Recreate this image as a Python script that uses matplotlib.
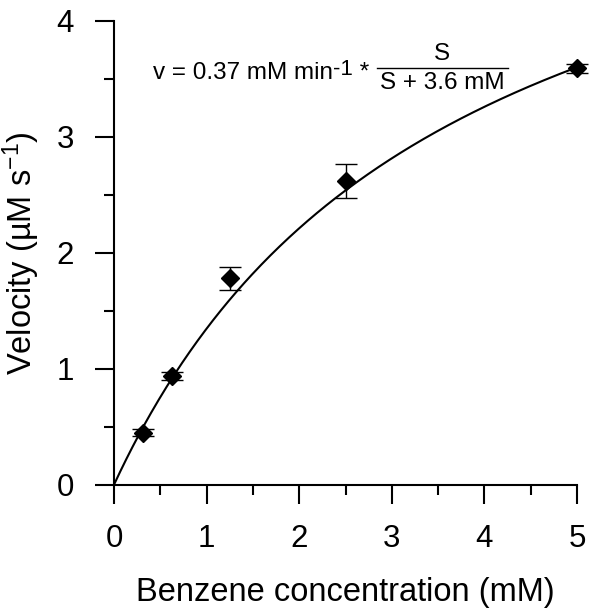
import numpy as np
import matplotlib
matplotlib.use("Agg")
import matplotlib.pyplot as plt
from matplotlib.ticker import MultipleLocator

plt.rcParams["font.family"] = ["Liberation Sans", "DejaVu Sans"]
plt.rcParams["mathtext.fontset"] = "custom"
plt.rcParams["mathtext.rm"] = "Liberation Sans"
plt.rcParams["mathtext.it"] = "Liberation Sans"

# measured data (benzene concentration, mM) vs velocity (uM/s)
conc = [0.3125, 0.625, 1.25, 2.5, 5.0]
velocity = [0.45, 0.935, 1.78, 2.62, 3.59]
vel_err = [0.03, 0.035, 0.10, 0.145, 0.04]

# Michaelis-Menten fit shown in the chart (plot units)
vmax_fit = 6.19
km_fit = 3.6

fig = plt.figure(figsize=(6.0, 6.13), dpi=100)
ax = fig.add_axes([0.19, 0.2093, 0.7717, 0.7569])

s = np.linspace(0, 5, 300)
ax.plot(s, vmax_fit * s / (s + km_fit), color="black", lw=1.5, zorder=2)
eb = ax.errorbar(conc, velocity, yerr=vel_err, fmt="D", color="black", ms=9.5,
                 ecolor="black", elinewidth=1.0, capsize=8, capthick=1.0, zorder=3)
for art in eb.lines[0:1] + tuple(eb.lines[1]) + tuple(eb.lines[2]):
    art.set_clip_on(False)

ax.set_xlim(0, 5)
ax.set_ylim(0, 4)
ax.xaxis.set_major_locator(MultipleLocator(1))
ax.xaxis.set_minor_locator(MultipleLocator(0.5))
ax.yaxis.set_major_locator(MultipleLocator(1))
ax.yaxis.set_minor_locator(MultipleLocator(0.5))
for side in ("top", "right"):
    ax.spines[side].set_visible(False)
for side in ("left", "bottom"):
    ax.spines[side].set_linewidth(1.5)
ax.tick_params(which="major", direction="out", length=14, width=1.5, labelsize=22.5)
ax.tick_params(axis="x", which="major", pad=14)
ax.tick_params(axis="y", which="major", pad=15)
ax.tick_params(which="minor", direction="out", length=7, width=1.5)

ax.set_xlabel("Benzene concentration (mM)", fontsize=23.5, labelpad=17)
ax.set_ylabel("Velocity (µM s$^{-1}$)", fontsize=23.5, labelpad=10)

# equation annotation
t_main = ax.text(0.42, 3.55, "v = 0.37 mM min", fontsize=17.5, ha="left", va="center")
t_sup = ax.annotate("-1", xy=(1.0, 1.12), xycoords=t_main, fontsize=16,
                    ha="left", va="top")
ax.annotate(" *", xy=(1.0, 0.5), xycoords=(t_sup, t_main), fontsize=17.5,
            ha="left", va="center")
ax.text(3.54, 3.71, "S", fontsize=17.5, ha="center", va="center")
ax.plot([2.84, 4.26], [3.595, 3.595], color="black", lw=1.0, clip_on=False)
ax.text(3.55, 3.465, "S + 3.6 mM", fontsize=17.5, ha="center", va="center")

fig.savefig("out.png", dpi=100)
